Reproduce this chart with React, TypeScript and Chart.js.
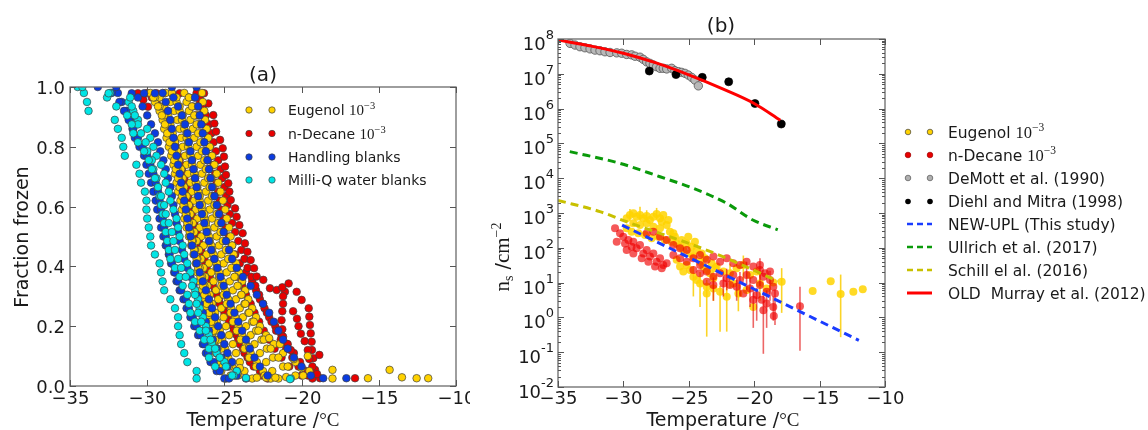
import React, { useEffect, useRef } from "react";
import { Chart, registerables } from "chart.js";
Chart.register(...registerables);

const SANS = '"DejaVu Sans", sans-serif';
const SERIF = '"Liberation Serif", "DejaVu Serif", serif';
const f = (size: number, fam: string) => `${size}px ${fam}`;

// ---------------- Panel (a) data ----------------
const levelsA = [0.98, 0.95, 0.92, 0.89, 0.86, 0.83, 0.80, 0.77, 0.74, 0.71, 0.68, 0.65, 0.62, 0.59, 0.56, 0.53, 0.50, 0.47, 0.44, 0.41, 0.38, 0.35, 0.32, 0.29, 0.26, 0.23, 0.20, 0.17, 0.14, 0.11, 0.08, 0.05, 0.025];
const levelsB = [0.965, 0.935, 0.905, 0.875, 0.845, 0.815, 0.785, 0.755, 0.725, 0.695, 0.665, 0.635, 0.605, 0.575, 0.545, 0.515, 0.485, 0.455, 0.425, 0.395, 0.365, 0.335, 0.305, 0.275, 0.245, 0.215, 0.185, 0.155, 0.125, 0.095, 0.065, 0.035];

const eugenolCurvesA = [
  [-29.8, -29.5, -29.2, -29.0, -28.9, -28.75, -28.6, -28.45, -28.3, -28.2, -28.1, -28.0, -27.85, -27.75, -27.6, -27.45, -27.3, -27.15, -27.0, -26.85, -26.75, -26.6, -26.5, -26.4, -26.2, -26.05, -25.9, -25.8, -25.65, -25.55, -25.4, -25.2, -24.9],
  [-28.8, -28.5, -28.25, -28.05, -27.9, -27.8, -27.7, -27.55, -27.45, -27.35, -27.2, -27.1, -26.95, -26.85, -26.75, -26.6, -26.5, -26.35, -26.15, -26.0, -25.85, -25.7, -25.55, -25.4, -25.2, -25.05, -24.9, -24.7, -24.45, -24.25, -24.0, -23.7, -23.2],
  [-27.6, -27.45, -27.3, -27.2, -27.05, -26.95, -26.8, -26.7, -26.55, -26.45, -26.3, -26.2, -26.05, -25.95, -25.8, -25.65, -25.5, -25.35, -25.2, -25.05, -24.85, -24.65, -24.45, -24.25, -24.0, -23.8, -23.6, -23.3, -23.05, -22.7, -22.3, -21.9, -21.5],
  [-26.45, -26.4, -26.3, -26.25, -26.15, -26.05, -25.95, -25.8, -25.65, -25.5, -25.4, -25.25, -25.1, -24.95, -24.85, -24.7, -24.6, -24.5, -24.4, -24.25, -24.05, -23.85, -23.65, -23.45, -23.2, -22.95, -22.7, -22.3, -21.8, -21.2, -20.4, -19.5, -18.0],
  [-28.4, -28.1, -27.9, -27.75, -27.6, -27.45, -27.35, -27.2, -27.1, -26.95, -26.85, -26.7, -26.6, -26.45, -26.3, -26.15, -26.0, -25.85, -25.7, -25.5, -25.35, -25.15, -24.95, -24.75, -24.55, -24.3, -24.1, -23.85, -23.6, -23.3, -22.9, -22.5, -22.0],
];
const eugenolCurvesB = [
  [-29.2, -28.9, -28.65, -28.5, -28.35, -28.2, -28.05, -27.95, -27.8, -27.7, -27.6, -27.45, -27.3, -27.2, -27.05, -26.95, -26.8, -26.65, -26.5, -26.35, -26.25, -26.1, -25.95, -25.8, -25.6, -25.5, -25.3, -25.15, -24.95, -24.75, -24.5, -24.1],
  [-28.1, -27.9, -27.7, -27.6, -27.45, -27.35, -27.25, -27.1, -27.0, -26.9, -26.75, -26.6, -26.45, -26.3, -26.2, -26.1, -25.95, -25.8, -25.65, -25.5, -25.35, -25.2, -25.05, -24.85, -24.6, -24.45, -24.2, -23.95, -23.7, -23.4, -22.95, -22.4],
  [-26.95, -26.8, -26.7, -26.6, -26.45, -26.35, -26.25, -26.1, -26.0, -25.85, -25.75, -25.65, -25.5, -25.35, -25.2, -25.1, -24.95, -24.8, -24.6, -24.45, -24.3, -24.1, -23.9, -23.7, -23.45, -23.2, -22.95, -22.6, -22.25, -21.85, -21.2, -20.4],
  [-29.5, -29.2, -28.9, -28.7, -28.55, -28.45, -28.3, -28.2, -28.05, -27.95, -27.85, -27.7, -27.6, -27.45, -27.3, -27.2, -27.05, -26.9, -26.75, -26.6, -26.45, -26.3, -26.15, -26.0, -25.85, -25.7, -25.55, -25.4, -25.2, -25.0, -24.7, -24.3],
  [-27.3, -27.1, -26.95, -26.8, -26.7, -26.55, -26.45, -26.3, -26.2, -26.05, -25.95, -25.8, -25.65, -25.5, -25.4, -25.25, -25.1, -24.9, -24.75, -24.55, -24.35, -24.15, -23.9, -23.65, -23.4, -23.1, -22.8, -22.45, -22.0, -21.5, -20.9, -19.9],
  [-29.6, -29.3, -29.05, -28.85, -28.7, -28.55, -28.4, -28.25, -28.15, -28.0, -27.9, -27.75, -27.65, -27.5, -27.4, -27.25, -27.1, -26.95, -26.8, -26.7, -26.55, -26.4, -26.3, -26.15, -26.0, -25.85, -25.7, -25.6, -25.45, -25.3, -25.1, -24.6],
];
const eugenolExtra: [number, number][] = [
  [-15.7, 0.026], [-14.3, 0.054], [-13.5, 0.029], [-12.55, 0.026], [-11.8, 0.026], [-18.0, 0.054], [-20.5, 0.09], [-20.0, 0.06],
  [-19.6, 0.1], [-21.4, 0.14], [-22.1, 0.16], [-22.9, 0.028], [-22.3, 0.028], [-21.7, 0.028], [-21.0, 0.03], [-23.4, 0.13], [-24.0, 0.06],
];

const decaneCurvesA = [
  [-26.8, -26.58, -26.36, -26.26, -26.15, -26.04, -25.93, -25.82, -25.7, -25.6, -25.5, -25.4, -25.3, -25.2, -25.05, -24.9, -24.7, -24.5, -24.3, -24.0, -23.6, -23.2, -22.95, -22.7, -22.4, -22.1, -21.7, -21.3, -20.95, -20.5, -20.1, -19.7, -19.3],
  [-30.0, -29.4, -29.1, -28.85, -28.55, -28.3, -28.15, -28.0, -27.85, -27.7, -27.6, -27.45, -27.35, -27.2, -27.05, -26.9, -26.7, -26.55, -26.4, -26.25, -26.05, -25.85, -25.6, -25.35, -25.05, -24.75, -24.45, -24.2, -24.0, -23.7, -23.35, -22.7, -22.2],
];
const decaneCurvesB = [
  [-27.3, -27.05, -26.85, -26.65, -26.5, -26.35, -26.25, -26.1, -26.0, -25.95, -25.85, -25.75, -25.6, -25.45, -25.3, -25.15, -24.95, -24.75, -24.55, -24.35, -24.1, -23.85, -23.6, -23.3, -23.05, -22.75, -22.45, -22.1, -21.75, -21.3, -20.8, -20.0],
  [-26.6, -26.4, -26.2, -26.0, -25.85, -25.7, -25.55, -25.4, -25.25, -25.15, -25.0, -24.9, -24.8, -24.65, -24.5, -24.3, -24.1, -23.9, -23.7, -23.5, -23.25, -23.0, -22.75, -22.5, -22.25, -21.95, -21.65, -21.35, -21.0, -20.6, -20.2, -19.6],
  [-29.7, -29.2, -28.9, -28.6, -28.4, -28.2, -28.05, -27.9, -27.75, -27.6, -27.45, -27.35, -27.25, -27.1, -26.95, -26.8, -26.65, -26.5, -26.3, -26.15, -25.95, -25.75, -25.5, -25.3, -25.0, -24.7, -24.4, -24.1, -23.8, -23.5, -23.1, -22.6],
];
const decaneExtra: [number, number][] = [
  [-26.32, 0.979], [-26.04, 0.945], [-25.72, 0.906], [-25.65, 0.878], [-25.54, 0.851], [-25.28, 0.823], [-25.11, 0.795], [-25.03, 0.767],
  [-24.96, 0.734], [-24.9, 0.706], [-24.75, 0.678], [-24.68, 0.65], [-24.59, 0.622], [-24.31, 0.594], [-24.21, 0.566], [-24.03, 0.538],
  [-23.82, 0.511], [-23.67, 0.477], [-23.51, 0.449], [-23.3, 0.421], [-23.08, 0.394], [-22.91, 0.366], [-22.48, 0.355], [-22.05, 0.327],
  [-21.61, 0.321], [-21.08, 0.315], [-20.84, 0.343], [-20.32, 0.315], [-20.0, 0.288], [-19.54, 0.26], [-19.5, 0.232], [-19.46, 0.204],
  [-19.41, 0.176], [-19.35, 0.148], [-19.33, 0.12], [-19.24, 0.093], [-18.85, 0.104], [-19.13, 0.054], [-18.81, 0.026], [-16.54, 0.026],
  [-21.25, 0.33], [-21.2, 0.3], [-21.2, 0.275], [-21.25, 0.25], [-21.3, 0.22], [-21.25, 0.19], [-21.2, 0.165], [-20.9, 0.14], [-20.7, 0.12],
  [-20.55, 0.25], [-20.3, 0.225], [-20.2, 0.2], [-20.05, 0.175], [-19.8, 0.15], [-19.6, 0.12], [-19.5, 0.09], [-19.3, 0.065], [-19.0, 0.04],
  [-30.6, 0.979], [-30.25, 0.957], [-29.95, 0.934], [-29.4, 0.979], [-28.9, 0.979], [-28.4, 0.979], [-27.9, 0.979],
];

const handlingCurvesA = [
  [-31.9, -31.65, -31.35, -31.1, -30.95, -30.8, -30.5, -30.2, -30.05, -29.9, -29.75, -29.6, -29.45, -29.35, -29.2, -29.1, -28.95, -28.8, -28.6, -28.45, -28.25, -28.1, -27.9, -27.65, -27.45, -27.2, -26.95, -26.7, -26.4, -26.2, -25.9, -25.5, -25.0],
  [-29.0, -28.8, -28.65, -28.5, -28.4, -28.3, -28.2, -28.1, -28.0, -27.9, -27.8, -27.7, -27.6, -27.5, -27.4, -27.3, -27.2, -27.1, -26.95, -26.8, -26.6, -26.4, -26.2, -26.0, -25.8, -25.6, -25.4, -25.2, -25.0, -24.8, -24.5, -24.2, -23.6],
  [-32.3, -31.8, -31.5, -31.2, -30.9, -30.6, -30.3, -30.0, -29.8, -29.6, -29.45, -29.3, -29.2, -29.1, -29.0, -28.9, -28.8, -28.7, -28.55, -28.4, -28.2, -28.0, -27.8, -27.5, -27.3, -27.05, -26.8, -26.55, -26.3, -26.05, -25.7, -25.3, -24.7],
];
const handlingCurvesB = [
  [-30.6, -30.3, -30.0, -29.75, -29.5, -29.3, -29.15, -28.95, -28.8, -28.65, -28.5, -28.4, -28.3, -28.2, -28.1, -28.0, -27.9, -27.75, -27.6, -27.4, -27.2, -27.0, -26.8, -26.6, -26.4, -26.2, -26.0, -25.75, -25.5, -25.2, -24.8, -24.2],
  [-26.9, -26.7, -26.6, -26.5, -26.4, -26.3, -26.2, -26.1, -26.0, -25.9, -25.8, -25.65, -25.5, -25.35, -25.2, -25.05, -24.9, -24.7, -24.5, -24.2, -23.8, -23.3, -22.9, -22.5, -22.1, -21.8, -21.5, -21.2, -20.9, -20.5, -20.0, -19.4],
  [-28.3, -28.0, -27.75, -27.55, -27.4, -27.3, -27.2, -27.1, -27.0, -26.9, -26.8, -26.7, -26.6, -26.45, -26.3, -26.15, -26.0, -25.85, -25.65, -25.45, -25.25, -25.05, -24.85, -24.6, -24.35, -24.1, -23.85, -23.6, -23.35, -23.05, -22.7, -22.2],
];
const handlingExtra: [number, number][] = [
  [-33.2, 1.0], [-32.0, 1.0], [-28.4, 1.0], [-26.8, 1.0], [-17.1, 0.026], [-18.6, 0.026], [-31.0, 0.979], [-30.2, 0.979], [-29.5, 0.979],
];

const milliQCurvesA = [
  [-34.1, -33.9, -33.8, -32.1, -31.9, -31.65, -31.55, -31.45, -30.7, -30.5, -30.4, -30.15, -30.05, -30.05, -30.0, -29.9, -29.8, -29.75, -29.5, -29.2, -29.1, -29.0, -28.9, -28.5, -28.2, -28.0, -28.0, -27.9, -27.8, -27.6, -27.4, -26.8, -26.8],
  [-32.4, -31.2, -30.9, -30.6, -30.0, -29.8, -29.6, -29.4, -29.1, -28.9, -28.8, -28.6, -28.5, -28.3, -28.1, -28.0, -27.9, -27.7, -27.6, -27.4, -27.2, -27.0, -26.9, -26.7, -26.6, -26.4, -26.2, -26.0, -25.8, -25.5, -25.0, -24.2, -20.7],
];
const milliQCurvesB = [
  [-31.1, -31.0, -30.8, -30.6, -30.4, -30.1, -30.0, -29.7, -29.6, -29.4, -29.3, -29.2, -29.1, -29.0, -28.9, -28.8, -28.7, -28.6, -28.5, -28.2, -27.9, -27.7, -27.4, -27.3, -27.2, -26.9, -26.6, -26.3, -26.0, -26.0, -25.6, -24.4],
  [-32.6, -32.0, -31.3, -31.0, -30.9, -30.6, -30.2, -29.9, -29.7, -29.5, -29.3, -29.1, -28.9, -28.8, -28.6, -28.4, -28.3, -28.2, -28.0, -27.8, -27.5, -27.1, -26.9, -26.8, -26.7, -26.5, -26.2, -25.9, -25.6, -25.3, -24.9, -24.5],
];
const milliQExtra: [number, number][] = [[-34.5, 1.0], [-34.2, 1.0], [-32.5, 0.979], [-20.75, 0.023], [-23.6, 0.027]];

const xTicks = [-35, -30, -25, -20, -15, -10];
const fracTicks = [0, 0.2, 0.4, 0.6, 0.8, 1.0];

// ---------------- Panel (b) data ----------------
const murrayT = [-35, -32.5, -30, -27.5, -25, -22.5, -20, -18];
const murrayNs = [9.4e7, 6.3e7, 3.9e7, 2.05e7, 9.3e6, 3.8e6, 1.4e6, 4.6e5];
const schillT = [-35, -31.8, -29.75, -27.2, -24.65, -22.1, -18.2];
const schillNs = [2.3e3, 1.1e3, 5.6e2, 2.6e2, 1.2e2, 50, 11];
const ullrichT = [-34.1, -30.3, -27.2, -24.65, -22.1, -20.1, -18.2];
const ullrichNs = [5.8e4, 2.7e4, 1.1e4, 5.1e3, 1.9e3, 6.3e2, 3.3e2];
const uplT = [-30.1, -22, -12];
const uplNs = [450, 15, 0.22];
const demottT = [-34.08, -33.7, -33.32, -32.94, -32.55, -32.17, -31.79, -31.41, -31.02, -30.51, -30.13, -29.75, -29.37, -29.11, -28.73, -28.48, -28.22, -27.97, -27.71, -27.46, -27.2, -26.95, -26.69, -26.31, -26.06, -25.8, -25.55, -25.29, -25.04, -24.78, -24.53, -24.27];
const demottNs = [7.5e7, 6.7e7, 6.0e7, 5.6e7, 5.2e7, 4.8e7, 4.6e7, 4.3e7, 4.1e7, 4.0e7, 3.9e7, 3.6e7, 3.5e7, 3.2e7, 3.0e7, 2.6e7, 2.2e7, 2.0e7, 1.8e7, 1.6e7, 1.44e7, 1.44e7, 1.38e7, 1.44e7, 1.23e7, 1.15e7, 1.1e7, 1.03e7, 9.2e6, 7.9e6, 6.6e6, 4.5e6];
const diehlT = [-28.02, -25.98, -23.97, -21.95, -19.94, -17.93];
const diehlNs = [1.2e7, 9.5e6, 7.9e6, 5.9e6, 1.4e6, 3.6e5];

const eugenolNs: [number, number][] = [
  [-29.75, 703], [-29.5, 877], [-29.24, 980], [-28.99, 785], [-28.73, 877], [-28.48, 703], [-28.22, 820], [-27.97, 630], [-27.71, 785],
  [-27.46, 935], [-27.2, 703], [-26.95, 877], [-29.24, 505], [-28.73, 452], [-28.22, 505], [-27.71, 405], [-27.2, 362], [-26.69, 452],
  [-26.44, 291], [-26.18, 261], [-29.75, 362], [-29.37, 291], [-28.86, 261], [-28.35, 233], [-27.84, 187], [-27.33, 209], [-26.82, 167],
  [-26.31, 150], [-25.93, 134], [-25.67, 108], [-25.42, 86], [-25.16, 134], [-24.91, 69], [-24.65, 56], [-24.4, 86], [-24.14, 40],
  [-23.89, 29], [-23.63, 23], [-23.38, 18.5], [-23.12, 13.3], [-24.65, 14.8], [-24.4, 11.9], [-24.91, 23], [-25.16, 32], [-24.14, 9.5],
  [-23.63, 7.6], [-22.87, 29], [-22.36, 21], [-21.85, 18.5], [-21.34, 26], [-20.83, 32], [-20.32, 16.5], [-19.81, 21], [-22.61, 5.5],
  [-22.1, 3.9], [-23.63, 4.9], [-23.12, 6.8], [-25.93, 45], [-25.67, 29], [-25.42, 21], [-19.56, 9.5], [-19.05, 6.8], [-18.54, 10],
  [-20.07, 2.0], [-20.58, 6.1], [-21.6, 9.5], [-21.21, 4.9], [-26.56, 630], [-27.07, 564], [-26.06, 209], [-25.55, 167], [-25.04, 209],
  [-24.78, 108], [-24.53, 150], [-24.02, 69], [-23.76, 50], [-23.25, 36], [-22.99, 26], [-17.9, 10.6], [-15.53, 5.7], [-14.15, 11],
  [-13.39, 4.7], [-12.42, 5.5], [-11.7, 6.4],
];
const eugenolErr: [number, number, number][] = [
  [-29.5, 600, 1300], [-28.73, 600, 1500], [-27.46, 650, 1400], [-28.22, 560, 1200], [-23.63, 0.28, 12], [-22.61, 0.39, 8],
  [-22.1, 0.39, 9.5], [-24.14, 2.0, 20], [-20.83, 12, 60], [-19.56, 3, 20], [-21.85, 7, 35], [-17.9, 1.35, 26], [-13.39, 0.27, 17],
  [-24.65, 4, 30], [-23.12, 3, 15], [-21.21, 1.5, 9],
];
const decaneNs: [number, number][] = [
  [-30.64, 362], [-30.51, 150], [-30.26, 261], [-30.01, 209], [-29.88, 134], [-29.62, 167], [-29.37, 108], [-29.24, 150], [-28.99, 97],
  [-28.73, 120], [-28.48, 69], [-28.22, 86], [-27.97, 56], [-27.71, 69], [-27.46, 40], [-27.2, 50], [-26.95, 32], [-26.69, 36],
  [-29.75, 86], [-29.24, 69], [-28.6, 50], [-28.09, 40], [-27.58, 29], [-27.07, 26], [-28.22, 261], [-27.71, 291], [-27.2, 209],
  [-26.69, 167], [-26.18, 120], [-25.67, 97], [-25.16, 86], [-24.65, 50], [-24.14, 62], [-23.63, 45], [-23.12, 56], [-22.61, 40],
  [-22.1, 50], [-21.6, 36], [-21.09, 32], [-20.58, 40], [-20.07, 29], [-19.56, 23], [-19.17, 18.5], [-18.79, 11.9], [-18.54, 7.6],
  [-24.65, 23], [-24.14, 18.5], [-23.63, 21], [-23.12, 14.8], [-22.61, 18.5], [-22.1, 13.3], [-21.6, 16.5], [-21.09, 11.9], [-20.58, 16.5],
  [-20.07, 11.9], [-19.56, 8.5], [-19.05, 5.5], [-20.32, 6.8], [-19.81, 4.4], [-19.43, 3.2], [-19.05, 2.5], [-18.54, 2.0], [-19.3, 1.6],
  [-20.07, 3.2], [-20.83, 4.9], [-21.34, 7.6], [-21.85, 8.5], [-22.36, 9.5], [-23.12, 8.5], [-23.63, 10.6], [-24.14, 32], [-25.16, 40],
  [-25.67, 50], [-26.18, 62], [-19.56, 32], [-19.3, 14.8], [-18.79, 21], [-18.41, 4.9], [-18.5, 1.1], [-16.5, 2.1],
];
const decaneErr: [number, number, number][] = [
  [-19.3, 0.09, 5], [-20.07, 0.5, 6.2], [-18.41, 0.6, 6.2], [-21.09, 4, 20], [-19.05, 0.5, 6], [-22.36, 4, 15], [-19.56, 8, 50],
  [-20.58, 6, 40], [-18.79, 3, 22], [-19.81, 0.8, 7], [-16.5, 0.11, 7.6], [-23.12, 3, 14], [-20.32, 2, 14], [-21.34, 3, 12],
  [-22.1, 6, 25], [-18.54, 0.8, 4],
];
const logTicks = [-2, -1, 0, 1, 2, 3, 4, 5, 6, 7, 8];

// ---------------- helpers ----------------
type Run = { t: string; font: string; dy?: number };
function drawRuns(ctx: CanvasRenderingContext2D, runs: Run[], x: number, y: number, align: "left" | "center" | "right") {
  let w = 0;
  for (const r of runs) { ctx.font = r.font; w += ctx.measureText(r.t).width; }
  let cx = align === "left" ? x : align === "center" ? x - w / 2 : x - w;
  ctx.textAlign = "left";
  ctx.textBaseline = "alphabetic";
  for (const r of runs) {
    ctx.font = r.font;
    ctx.fillText(r.t, cx, y + (r.dy || 0));
    cx += ctx.measureText(r.t).width;
  }
}
const minus = (v: number) => (v < 0 ? "\u2212" + Math.abs(v) : String(v));

function curvePoints(curvesA: number[][], curvesB: number[][], extra: [number, number][]) {
  const out: { x: number; y: number }[] = [];
  curvesA.forEach((c) => c.forEach((t, i) => out.push({ x: t, y: levelsA[i] })));
  curvesB.forEach((c) => c.forEach((t, i) => out.push({ x: t, y: levelsB[i] })));
  extra.forEach(([x, y]) => out.push({ x, y }));
  return out;
}
const zipXY = (xs: number[], ys: number[]) => xs.map((x, i) => ({ x, y: ys[i] }));

function frame(ctx: CanvasRenderingContext2D, a: any) {
  ctx.save();
  ctx.strokeStyle = "#6a6a6a";
  ctx.lineWidth = 1.3;
  ctx.strokeRect(a.left, a.top, a.right - a.left, a.bottom - a.top);
  ctx.restore();
}
function dot(ctx: CanvasRenderingContext2D, x: number, y: number, r: number, fill: string, edge?: string) {
  ctx.beginPath();
  ctx.arc(x, y, r, 0, Math.PI * 2);
  ctx.fillStyle = fill;
  ctx.fill();
  if (edge) { ctx.strokeStyle = edge; ctx.lineWidth = 0.7; ctx.stroke(); }
}

const YEL = "#FFD200", RED = "#E80000", BLUE = "#0A3BE0", CYAN = "#00E5E5", EDGE = "#404040";

const panelAPlugin = {
  id: "panelA",
  afterDatasetsDraw(chart: any) {
    const { ctx, chartArea: a, scales } = chart;
    const xs = scales.x, ys = scales.y;
    frame(ctx, a);
    ctx.save();
    ctx.strokeStyle = "#555";
    ctx.lineWidth = 1;
    ctx.fillStyle = "#1a1a1a";
    for (const v of xTicks) {
      const px = Math.round(xs.getPixelForValue(v)) + 0.5;
      ctx.beginPath(); ctx.moveTo(px, a.bottom); ctx.lineTo(px, a.bottom - 6); ctx.moveTo(px, a.top); ctx.lineTo(px, a.top + 6); ctx.stroke();
      drawRuns(ctx, [{ t: minus(v), font: f(18, SANS) }], px, 404, "center");
    }
    for (const v of fracTicks) {
      const py = Math.round(ys.getPixelForValue(v)) + 0.5;
      ctx.beginPath(); ctx.moveTo(a.left, py); ctx.lineTo(a.left + 6, py); ctx.moveTo(a.right, py); ctx.lineTo(a.right - 6, py); ctx.stroke();
      drawRuns(ctx, [{ t: v.toFixed(1), font: f(18, SANS) }], 65, py + 6.5, "right");
    }
    drawRuns(ctx, [{ t: "(a)", font: f(20, SANS) }], 263, 81, "center");
    drawRuns(ctx, [{ t: "Temperature /", font: f(19, SANS) }, { t: "\u00B0C", font: f(19, SERIF) }], 263, 426, "center");
    ctx.save();
    ctx.translate(28, 237);
    ctx.rotate(-Math.PI / 2);
    drawRuns(ctx, [{ t: "Fraction frozen", font: f(19, SANS) }], 0, 0, "center");
    ctx.restore();
    const items: [string, Run[]][] = [
      [YEL, [{ t: "Eugenol ", font: f(14, SANS) }, { t: "10", font: f(15, SERIF) }, { t: "\u22123", font: f(10.5, SERIF), dy: -6 }]],
      [RED, [{ t: "n-Decane ", font: f(14, SANS) }, { t: "10", font: f(15, SERIF) }, { t: "\u22123", font: f(10.5, SERIF), dy: -6 }]],
      [BLUE, [{ t: "Handling blanks", font: f(14, SANS) }]],
      [CYAN, [{ t: "Milli-Q water blanks", font: f(14, SANS) }]],
    ];
    const rows = [110, 133.5, 157, 180];
    items.forEach(([c, runs], i) => {
      dot(ctx, 249, rows[i], 3.2, c, EDGE);
      dot(ctx, 272, rows[i], 3.2, c, EDGE);
      ctx.fillStyle = "#1a1a1a";
      drawRuns(ctx, runs, 288, rows[i] + 5, "left");
    });
    ctx.restore();
  },
};

function errPlugin(id: string) {
  return {
    id,
    beforeDatasetDraw(chart: any, args: any) {
      const ds = chart.data.datasets[args.index];
      if (!ds.errBars) return;
      const { ctx, scales } = chart;
      ctx.save();
      ctx.strokeStyle = ds.errColor;
      ctx.lineWidth = 1.6;
      for (const [t, lo, hi] of ds.errBars as [number, number, number][]) {
        const px = scales.x.getPixelForValue(t);
        ctx.beginPath();
        ctx.moveTo(px, scales.y.getPixelForValue(lo));
        ctx.lineTo(px, scales.y.getPixelForValue(hi));
        ctx.stroke();
      }
      ctx.restore();
    },
  };
}

const panelBPlugin = {
  id: "panelB",
  afterDatasetsDraw(chart: any) {
    const { ctx, chartArea: a, scales } = chart;
    const xs = scales.x, ys = scales.y;
    frame(ctx, a);
    ctx.save();
    ctx.strokeStyle = "#555";
    ctx.lineWidth = 1;
    ctx.fillStyle = "#1a1a1a";
    for (const v of xTicks) {
      const px = Math.round(xs.getPixelForValue(v)) + 0.5;
      ctx.beginPath(); ctx.moveTo(px, a.bottom); ctx.lineTo(px, a.bottom - 6); ctx.moveTo(px, a.top); ctx.lineTo(px, a.top + 6); ctx.stroke();
      drawRuns(ctx, [{ t: minus(v), font: f(18, SANS) }], px, 404, "center");
    }
    for (const e of logTicks) {
      const py = Math.round(ys.getPixelForValue(Math.pow(10, e))) + 0.5;
      ctx.beginPath(); ctx.moveTo(a.left, py); ctx.lineTo(a.left + 6, py); ctx.moveTo(a.right, py); ctx.lineTo(a.right - 6, py); ctx.stroke();
      if (e < 8) {
        for (let m = 2; m <= 9; m++) {
          const pm = Math.round(ys.getPixelForValue(m * Math.pow(10, e))) + 0.5;
          ctx.beginPath(); ctx.moveTo(a.left, pm); ctx.lineTo(a.left + 3, pm); ctx.moveTo(a.right, pm); ctx.lineTo(a.right - 3, pm); ctx.stroke();
        }
      }
      drawRuns(ctx, [{ t: "10", font: f(18, SANS) }, { t: e < 0 ? "-" + Math.abs(e) : String(e), font: f(13, SANS), dy: -11 }], 84, py + 10.5, "right");
    }
    drawRuns(ctx, [{ t: "(b)", font: f(20, SANS) }], 251, 32, "center");
    drawRuns(ctx, [{ t: "Temperature /", font: f(19, SANS) }, { t: "\u00B0C", font: f(19, SERIF) }], 253, 426, "center");
    ctx.save();
    ctx.translate(39, 257);
    ctx.rotate(-Math.PI / 2);
    drawRuns(ctx, [
      { t: "n", font: f(21, SERIF) }, { t: "s", font: f(14, SERIF), dy: 4 }, { t: " /", font: f(19, SANS) },
      { t: "cm", font: f(21, SERIF) }, { t: "\u22122", font: f(14, SERIF), dy: -8 },
    ], 0, 0, "center");
    ctx.restore();
    const rows = [132, 155, 178, 201.5, 224, 247, 270, 293];
    const lx1 = 438, lx2 = 460, tx = 478;
    const sup = (name: string): Run[] => [{ t: name, font: f(15.5, SANS) }, { t: "10", font: f(16.5, SERIF) }, { t: "\u22123", font: f(11.5, SERIF), dy: -7 }];
    const labels: Run[][] = [
      sup("Eugenol "), sup("n-Decane "),
      [{ t: "DeMott et al. (1990)", font: f(15.5, SANS) }],
      [{ t: "Diehl and Mitra (1998)", font: f(15.5, SANS) }],
      [{ t: "NEW-UPL (This study)", font: f(15.5, SANS) }],
      [{ t: "Ullrich et al. (2017)", font: f(15.5, SANS) }],
      [{ t: "Schill el al. (2016)", font: f(15.5, SANS) }],
      [{ t: "OLD  Murray et al. (2012)", font: f(15.5, SANS) }],
    ];
    const dots: [string, string | undefined][] = [[YEL, EDGE], [RED, "#900"], ["#b0b0b0", "#555"], ["#000", undefined]];
    dots.forEach(([c, e], i) => { dot(ctx, lx1, rows[i], 2.8, c, e); dot(ctx, lx2, rows[i], 2.8, c, e); });
    const dashes: string[] = ["#1a3cff", "#0a9a0a", "#c8c000"];
    dashes.forEach((c, k) => {
      const y = rows[4 + k];
      ctx.save();
      ctx.strokeStyle = c; ctx.lineWidth = 2.6; ctx.setLineDash([6, 4]);
      ctx.beginPath(); ctx.moveTo(lx1 - 1, y); ctx.lineTo(lx2 + 2, y); ctx.stroke();
      ctx.restore();
    });
    ctx.save();
    ctx.strokeStyle = "#ff0000"; ctx.lineWidth = 3;
    ctx.beginPath(); ctx.moveTo(lx1 - 1, rows[7]); ctx.lineTo(lx2 + 2, rows[7]); ctx.stroke();
    ctx.restore();
    ctx.fillStyle = "#1a1a1a";
    labels.forEach((runs, i) => drawRuns(ctx, runs, tx, rows[i] + 5.5, "left"));
    ctx.restore();
  },
};

function scatterSet(label: string, data: any[], color: string, order: number) {
  return {
    label, data, order, clip: 0,
    pointRadius: 3.8, pointHoverRadius: 3.8,
    pointBackgroundColor: color, pointBorderColor: EDGE, pointBorderWidth: 0.7,
    showLine: false,
  };
}
function lineSet(label: string, data: any[], color: string, dash: number[], order: number) {
  return {
    label, data, order, clip: 0, showLine: true, pointRadius: 0, pointHoverRadius: 0,
    borderColor: color, borderWidth: 3, borderDash: dash, cubicInterpolationMode: "monotone", fill: false,
  };
}

export default function App() {
  const refA = useRef<HTMLCanvasElement>(null);
  const refB = useRef<HTMLCanvasElement>(null);
  useEffect(() => {
    const common = {
      responsive: false, devicePixelRatio: 1, animation: false as const, events: [] as any[],
      plugins: { legend: { display: false }, tooltip: { enabled: false }, title: { display: false } },
    };
    const ca = new Chart(refA.current!, {
      type: "scatter",
      data: {
        datasets: [
          scatterSet("Milli-Q water blanks", curvePoints(milliQCurvesA, milliQCurvesB, milliQExtra), CYAN, 0),
          scatterSet("Handling blanks", curvePoints(handlingCurvesA, handlingCurvesB, handlingExtra), BLUE, 1),
          scatterSet("Eugenol", curvePoints(eugenolCurvesA, eugenolCurvesB, eugenolExtra), YEL, 2),
          scatterSet("n-Decane", curvePoints(decaneCurvesA, decaneCurvesB, decaneExtra), RED, 3),
        ] as any,
      },
      options: {
        ...common,
        layout: { padding: { left: 70, right: 14, top: 87, bottom: 44 } },
        scales: {
          x: { type: "linear", min: -35, max: -10, display: false },
          y: { type: "linear", min: 0, max: 1, display: false },
        },
      } as any,
      plugins: [panelAPlugin],
    });
    const cb = new Chart(refB.current!, {
      type: "scatter",
      data: {
        datasets: [
          lineSet("OLD Murray et al. (2012)", zipXY(murrayT, murrayNs), "#ff0000", [], 0),
          lineSet("NEW-UPL (This study)", zipXY(uplT, uplNs), "#1a3cff", [8, 5], 1),
          lineSet("Schill el al. (2016)", zipXY(schillT, schillNs), "#c8c000", [8, 5], 2),
          lineSet("Ullrich et al. (2017)", zipXY(ullrichT, ullrichNs), "#0a9a0a", [8, 5], 3),
          { ...scatterSet("Diehl and Mitra (1998)", zipXY(diehlT, diehlNs), "#000", 4), pointRadius: 4, pointBorderColor: "#000" },
          { ...scatterSet("DeMott et al. (1990)", zipXY(demottT, demottNs), "#b8b8b8", 5), pointRadius: 4.2, pointBorderColor: "#555", pointBorderWidth: 0.8 },
          {
            ...scatterSet("n-Decane", decaneNs.map(([x, y]) => ({ x, y })), "rgba(240,0,0,0.65)", 6),
            pointRadius: 4, pointBorderWidth: 0, errBars: decaneErr, errColor: "rgba(225,0,0,0.6)",
          },
          {
            ...scatterSet("Eugenol", eugenolNs.map(([x, y]) => ({ x, y })), "rgba(255,212,0,0.85)", 7),
            pointRadius: 4, pointBorderWidth: 0, errBars: eugenolErr, errColor: "rgba(250,205,0,0.85)",
          },
        ] as any,
      },
      options: {
        ...common,
        layout: { padding: { left: 88, right: 263, top: 39, bottom: 43 } },
        scales: {
          x: { type: "linear", min: -35, max: -10, display: false },
          y: { type: "logarithmic", min: 0.01, max: 1e8, display: false },
        },
      } as any,
      plugins: [errPlugin("errbars"), panelBPlugin],
    });
    return () => { ca.destroy(); cb.destroy(); };
  }, []);
  return (
    <div style={{ position: "absolute", left: 0, top: 0, width: 1148, height: 430, background: "#fff", overflow: "hidden" }}>
      <canvas ref={refA} width={470} height={430} style={{ position: "absolute", left: 0, top: 0, width: 470, height: 430 }} />
      <canvas ref={refB} width={678} height={430} style={{ position: "absolute", left: 470, top: 0, width: 678, height: 430 }} />
    </div>
  );
}
